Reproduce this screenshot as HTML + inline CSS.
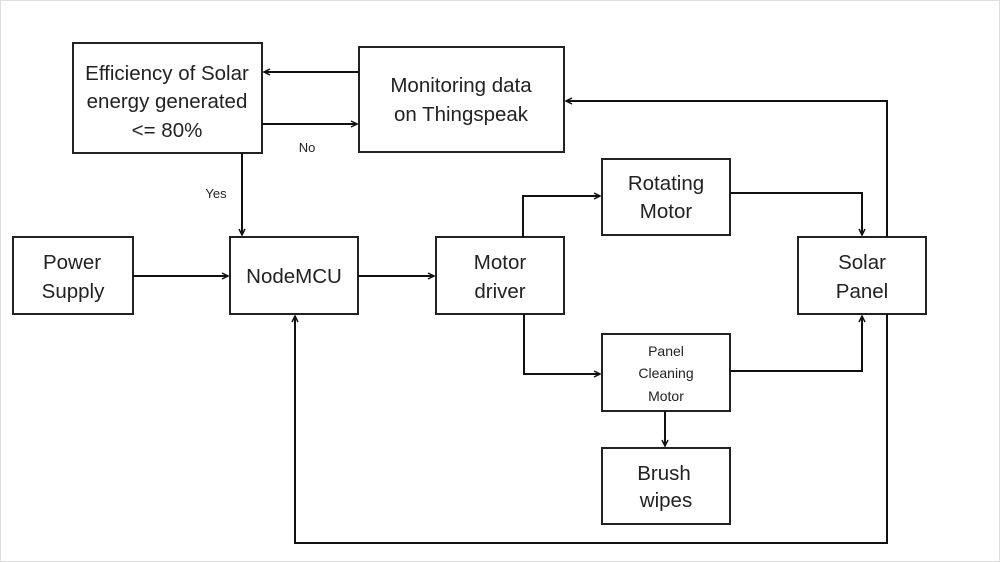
<!DOCTYPE html>
<html><head><meta charset="utf-8"><style>
html,body{margin:0;padding:0;background:#fff}
svg{display:block}
text{font-family:"Liberation Sans",sans-serif;fill:#222}
</style></head><body>
<svg width="1000" height="562" viewBox="0 0 1000 562" xmlns="http://www.w3.org/2000/svg">
<defs><marker id="a" markerWidth="8" markerHeight="8" refX="7" refY="4" orient="auto" markerUnits="userSpaceOnUse"><path d="M1,1 L7,4 L1,7" fill="none" stroke="#111" stroke-width="1.5"/></marker></defs>
<rect x="0.5" y="0.5" width="999" height="561" fill="#fff" stroke="#ddd"/>
<g fill="#fff" stroke="#222" stroke-width="2">
<rect x="73" y="43" width="189" height="110"/>
<rect x="359" y="47" width="205" height="105"/>
<rect x="13" y="237" width="120" height="77"/>
<rect x="230" y="237" width="128" height="77"/>
<rect x="436" y="237" width="128" height="77"/>
<rect x="602" y="159" width="128" height="76"/>
<rect x="798" y="237" width="128" height="77"/>
<rect x="602" y="334" width="128" height="77"/>
<rect x="602" y="448" width="128" height="76"/>
</g>
<g fill="none" stroke="#111" stroke-width="2" marker-end="url(#a)">
<path d="M359 72 H264"/>
<path d="M262 124 H357"/>
<path d="M242 153 V235"/>
<path d="M133 276 H228"/>
<path d="M358 276 H434"/>
<path d="M523 237 V196 H600"/>
<path d="M730 193 H862 V235"/>
<path d="M524 314 V374 H600"/>
<path d="M730 371 H862 V316"/>
<path d="M665 411 V446"/>
<path d="M887 237 V101 H566"/>
<path d="M887 314 V543 H295 V316"/>
</g>
<g font-size="20.5" text-anchor="middle">
<text x="167" y="80">Efficiency of Solar</text>
<text x="167" y="108">energy generated</text>
<text x="167" y="137">&lt;= 80%</text>
<text x="461" y="92">Monitoring data</text>
<text x="461" y="121">on Thingspeak</text>
<text x="72" y="269">Power</text>
<text x="73" y="298">Supply</text>
<text x="294" y="283">NodeMCU</text>
<text x="500" y="269">Motor</text>
<text x="500" y="298">driver</text>
<text x="666" y="190">Rotating</text>
<text x="666" y="218">Motor</text>
<text x="862" y="269">Solar</text>
<text x="862" y="298">Panel</text>
<text x="664" y="480">Brush</text>
<text x="666" y="507">wipes</text>
</g>
<g font-size="14" text-anchor="middle">
<text x="666" y="356">Panel</text>
<text x="666" y="378">Cleaning</text>
<text x="666" y="401">Motor</text>
</g>
<g font-size="13" text-anchor="middle">
<text x="307" y="152">No</text>
<text x="216" y="198">Yes</text>
</g>
</svg>
</body></html>
